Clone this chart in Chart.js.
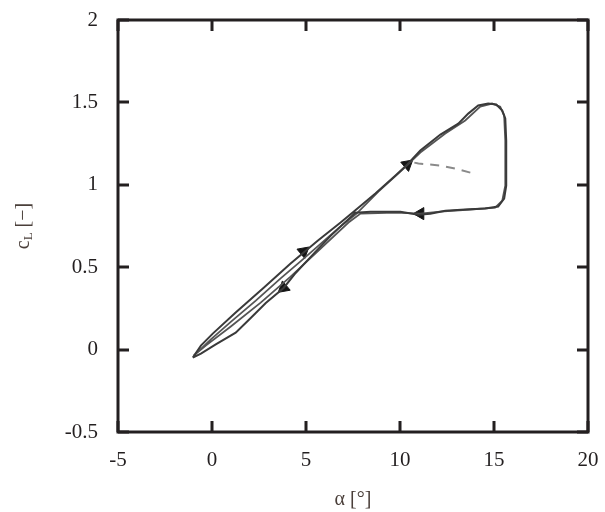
<!DOCTYPE html>
<html>
<head>
<meta charset="utf-8">
<script src="https://cdn.jsdelivr.net/npm/chart.js@4/dist/chart.umd.min.js"></script>
<style>
  html, body { margin: 0; padding: 0; background: #fff; }
  #wrap { width: 605px; height: 512px; }
</style>
</head>
<body>
<div id="wrap"><canvas id="chartCl" width="605" height="512"></canvas></div>
<script>
// axis ticks
const xTicks = [-5, 0, 5, 10, 15, 20];
const yTicks = [-0.5, 0, 0.5, 1, 1.5, 2];

// first cycle: up the upper branch, round the stall loop, down the lower branch
const cycle1X = [-1.02, -0.59, 0.04, 1.26, 2.75, 4.18, 5.62, 6.84, 7.53, 8.69, 9.76, 10.39, 11.08, 12.15, 13.10, 13.63, 14.16, 14.69, 15.12, 15.44, 15.60, 15.65, 15.65, 15.65, 15.54, 15.22, 14.53, 13.47, 12.41, 11.61, 10.98, 10.02, 9.23, 8.43, 7.63, 7.10, 6.31, 5.35, 4.45, 3.81, 2.86, 2.06, 1.26, 0.20, -0.59, -1.02];
const cycle1Y = [-0.049, 0.024, 0.097, 0.225, 0.376, 0.522, 0.661, 0.771, 0.837, 0.947, 1.056, 1.123, 1.208, 1.305, 1.371, 1.432, 1.481, 1.493, 1.487, 1.450, 1.402, 1.268, 1.117, 0.995, 0.916, 0.868, 0.856, 0.850, 0.843, 0.825, 0.819, 0.837, 0.837, 0.837, 0.831, 0.775, 0.690, 0.575, 0.465, 0.374, 0.283, 0.192, 0.103, 0.032, -0.024, -0.049];

// second cycle, slightly shifted
const cycle2X = [-0.91, -0.06, 1.00, 2.33, 3.65, 4.71, 5.88, 6.94, 7.69, 8.85, 10.02, 11.08, 12.41, 13.47, 14.27, 14.90, 15.33, 15.54, 15.60, 15.60, 15.44, 15.06, 13.74, 12.14, 11.08, 9.76, 7.90, 7.26, 5.78, 4.18, 2.59, 1.00, -0.33, -0.97];
const cycle2Y = [-0.030, 0.062, 0.168, 0.297, 0.432, 0.535, 0.652, 0.758, 0.825, 0.959, 1.080, 1.196, 1.311, 1.390, 1.475, 1.493, 1.474, 1.420, 1.268, 0.995, 0.904, 0.862, 0.850, 0.837, 0.825, 0.831, 0.825, 0.771, 0.613, 0.443, 0.285, 0.140, 0.024, -0.036];

// dashed start-up transient
const dashX = [13.74, 12.94, 12.14, 10.98, 10.55];
const dashY = [1.074, 1.098, 1.117, 1.129, 1.140];

// direction arrows
const arrowX = [10.39, 11.08, 4.87, 3.81];
const arrowY = [1.123, 0.825, 0.595, 0.375];
const arrowAngle = [50, 270, 50, 230];

function toPoints(xs, ys) {
    return xs.map((x, i) => ({ x: x, y: ys[i] }));
}

// the layout padding alone decides where the plot frame sits
function noLabelPadding(s) {
    s.paddingTop = 0;
    s.paddingBottom = 0;
    s.paddingLeft = 0;
    s.paddingRight = 0;
}

const frameTicks = {
    id: "frameTicks",
    afterDraw(chart) {
        const ctx = chart.ctx;
        const a = chart.chartArea;
        const xs = chart.scales.x, ys = chart.scales.y;
        const len = 11;
        ctx.save();
        ctx.strokeStyle = "#231f20";
        ctx.lineWidth = 3;
        ctx.strokeRect(a.left, a.top, a.right - a.left, a.bottom - a.top);
        ctx.beginPath();
        xTicks.forEach(v => {
            const px = Math.round(xs.getPixelForValue(v));
            ctx.moveTo(px, a.bottom); ctx.lineTo(px, a.bottom - len);
            ctx.moveTo(px, a.top); ctx.lineTo(px, a.top + len);
        });
        yTicks.forEach(v => {
            const py = Math.round(ys.getPixelForValue(v));
            ctx.moveTo(a.left, py); ctx.lineTo(a.left + len, py);
            ctx.moveTo(a.right, py); ctx.lineTo(a.right - len, py);
        });
        ctx.stroke();

        // y title with subscript
        ctx.fillStyle = "#4a3f3a";
        ctx.translate(24, (a.top + a.bottom) / 2);
        ctx.rotate(-Math.PI / 2);
        ctx.textBaseline = "middle";
        const big = "20px 'Liberation Serif', serif";
        const small = "13px 'Liberation Serif', serif";
        ctx.font = big;
        const wc = ctx.measureText("c").width;
        const wr = ctx.measureText(" [\u2212]").width;
        ctx.font = small;
        const wl = ctx.measureText("L").width;
        let x0 = -(wc + wl + wr) / 2;
        ctx.font = big;
        ctx.fillText("c", x0, 0);
        ctx.font = small;
        ctx.fillText("L", x0 + wc, 5);
        ctx.font = big;
        ctx.fillText(" [\u2212]", x0 + wc + wl, 0);
        ctx.restore();
    }
};

function initChart() {
    const canvas = document.getElementById("chartCl");
    new Chart(canvas, {
        type: "scatter",
        data: {
            datasets: [
                {
                    data: toPoints(dashX, dashY),
                    showLine: true,
                    borderColor: "#8a8a8a",
                    borderWidth: 2,
                    borderDash: [9, 7],
                    pointRadius: 0
                },
                {
                    data: toPoints(cycle1X, cycle1Y),
                    showLine: true,
                    borderColor: "#3a3a3a",
                    borderWidth: 2,
                    pointRadius: 0
                },
                {
                    data: toPoints(cycle2X, cycle2Y),
                    showLine: true,
                    borderColor: "#555555",
                    borderWidth: 1.8,
                    pointRadius: 0
                },
                {
                    data: toPoints(arrowX, arrowY),
                    showLine: false,
                    pointStyle: "triangle",
                    pointRadius: 7,
                    pointRotation: arrowAngle,
                    backgroundColor: "#151515",
                    borderColor: "#151515",
                    borderWidth: 1
                }
            ]
        },
        options: {
            responsive: false,
            animation: false,
            layout: { padding: { left: 0, top: 20, right: 17, bottom: 0 } },
            plugins: { legend: { display: false }, tooltip: { enabled: false } },
            scales: {
                x: {
                    type: "linear",
                    min: -5, max: 20,
                    afterBuildTicks: s => { s.ticks = xTicks.map(v => ({ value: v })); },
                    afterFit: s => { s.height = 80; noLabelPadding(s); },
                    grid: { display: false, drawTicks: false },
                    border: { display: false },
                    ticks: {
                        color: "#231f20",
                        padding: 16,
                        callback: v => String(v),
                        font: { family: "'Liberation Serif', serif", size: 21 }
                    },
                    title: {
                        display: true,
                        text: "\u03b1 [\u00b0]",
                        color: "#4a3f3a",
                        padding: { top: 0, bottom: 0 },
                        font: { family: "'Liberation Serif', serif", size: 20 }
                    }
                },
                y: {
                    type: "linear",
                    min: -0.5, max: 2,
                    afterBuildTicks: s => { s.ticks = yTicks.map(v => ({ value: v })); },
                    afterFit: s => { s.width = 118; noLabelPadding(s); },
                    grid: { display: false, drawTicks: false },
                    border: { display: false },
                    ticks: {
                        color: "#231f20",
                        padding: 20,
                        callback: v => String(v),
                        font: { family: "'Liberation Serif', serif", size: 21 }
                    }
                }
            }
        },
        plugins: [frameTicks]
    });
}

document.addEventListener("DOMContentLoaded", initChart);
</script>
</body>
</html>
